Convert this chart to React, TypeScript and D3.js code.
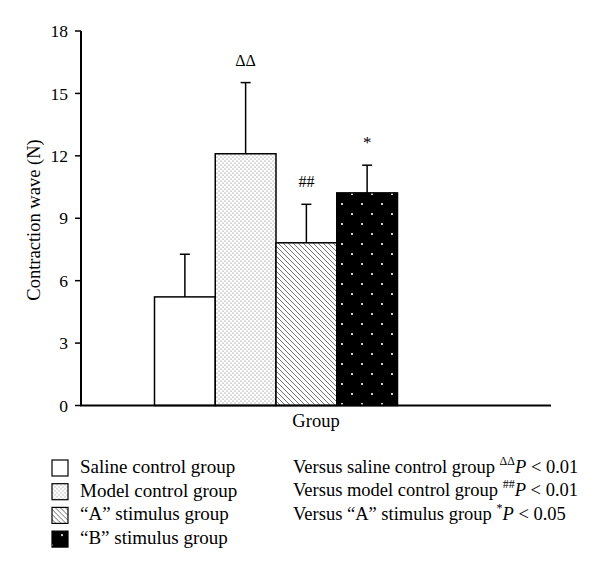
import React from "react";
import * as d3 from "d3";

const categories = ["Saline control group", "Model control group", "\u201cA\u201d stimulus group", "\u201cB\u201d stimulus group"];
const means = [5.22, 12.1, 7.82, 10.22];
const errors = [2.05, 3.42, 1.85, 1.33];
const marks = ["", "\u0394\u0394", "##", "*"];
const yTicks = [0, 3, 6, 9, 12, 15, 18];
const notes = [
  { text: "Versus saline control group ", sup: "\u0394\u0394", p: "0.01" },
  { text: "Versus model control group ", sup: "##", p: "0.01" },
  { text: "Versus \u201cA\u201d stimulus group ", sup: "*", p: "0.05" },
];
const fills = ["#fff", "url(#pDots)", "url(#pHatch)", "url(#pBlack)"];

const W = 600, H = 575;
const FONT = "'Liberation Serif', 'Times New Roman', serif";

export default function App() {
  const y = d3.scaleLinear().domain([0, 18]).range([405.5, 31]);
  const x = d3.scaleBand<string>().domain(categories).range([154.5, 397.5]).padding(0);
  const axisX = 81, axisEnd = 551;
  return (
    <svg width={W} height={H} style={{ position: "absolute", left: 0, top: 0, background: "#fff" }} fontFamily={FONT}>
      <defs>
        <pattern id="pDots" width="4" height="4" patternUnits="userSpaceOnUse">
          <rect width="4" height="4" fill="#fff" />
          <circle cx="1" cy="1" r="0.55" fill="#666" />
          <circle cx="3" cy="3" r="0.55" fill="#666" />
        </pattern>
        <pattern id="pHatch" width="5" height="5" patternUnits="userSpaceOnUse">
          <rect width="5" height="5" fill="#fff" />
          <path d="M-1,-1 L6,6 M-1,4 L1,6 M4,-1 L6,1" stroke="#333" strokeWidth="0.7" />
        </pattern>
        <pattern id="pBlack" width="20" height="20" patternUnits="userSpaceOnUse" x="336" y="0">
          <rect width="20" height="20" fill="#000" />
          <circle cx="6" cy="4" r="1.1" fill="#fff" />
          <circle cx="16" cy="14" r="1.1" fill="#fff" />
        </pattern>
      </defs>

      {categories.map((c, i) => {
        const x0 = x(c)!;
        const bw = x.bandwidth();
        const cx = x0 + bw / 2;
        const top = y(means[i]);
        const et = y(means[i] + errors[i]);
        return (
          <g key={c}>
            <rect x={x0} y={top} width={bw} height={y(0) - top} fill={fills[i]} stroke="#000" strokeWidth={1.5} />
            <line x1={cx} x2={cx} y1={top} y2={et} stroke="#000" strokeWidth={1.5} />
            <line x1={cx - 5} x2={cx + 5} y1={et} y2={et} stroke="#000" strokeWidth={1.5} />
            {marks[i] && (
              <text x={cx} y={et - 17} textAnchor="middle" fontSize={marks[i] === "*" ? 17 : 16}>{marks[i]}</text>
            )}
          </g>
        );
      })}

      <line x1={axisX} x2={axisX} y1={y(18)} y2={y(0)} stroke="#000" strokeWidth={2} />
      <line x1={axisX - 1} x2={axisEnd} y1={y(0)} y2={y(0)} stroke="#000" strokeWidth={2} />
      {yTicks.map((t) => (
        <g key={t}>
          <line x1={axisX - 6} x2={axisX} y1={y(t)} y2={y(t)} stroke="#000" strokeWidth={1.5} />
          <text x={axisX - 13} y={y(t)} dy="0.35em" textAnchor="end" fontSize={17.5}>{t}</text>
        </g>
      ))}
      <text transform={`translate(40,220) rotate(-90)`} textAnchor="middle" fontSize={18.5}>Contraction wave (N)</text>
      <text x={(axisX + axisEnd) / 2} y={427} textAnchor="middle" fontSize={18.5}>Group</text>

      {categories.map((c, i) => (
        <g key={"lg" + c} transform={`translate(0,${460 + i * 23.7})`}>
          <rect x={52} y={0} width={16} height={16} fill={fills[i]} stroke="#000" strokeWidth={1.2} />
          <text x={80} y={13} fontSize={19}>{c}</text>
        </g>
      ))}
      {notes.map((n, i) => (
        <text key={"n" + i} x={293} y={472.5 + i * 23.5} fontSize={18.5}>
          {n.text}
          <tspan fontSize={12} dy={-8}>{n.sup}</tspan>
          <tspan dy={8} fontStyle="italic">P</tspan>
          <tspan>{" < " + n.p}</tspan>
        </text>
      ))}
    </svg>
  );
}
